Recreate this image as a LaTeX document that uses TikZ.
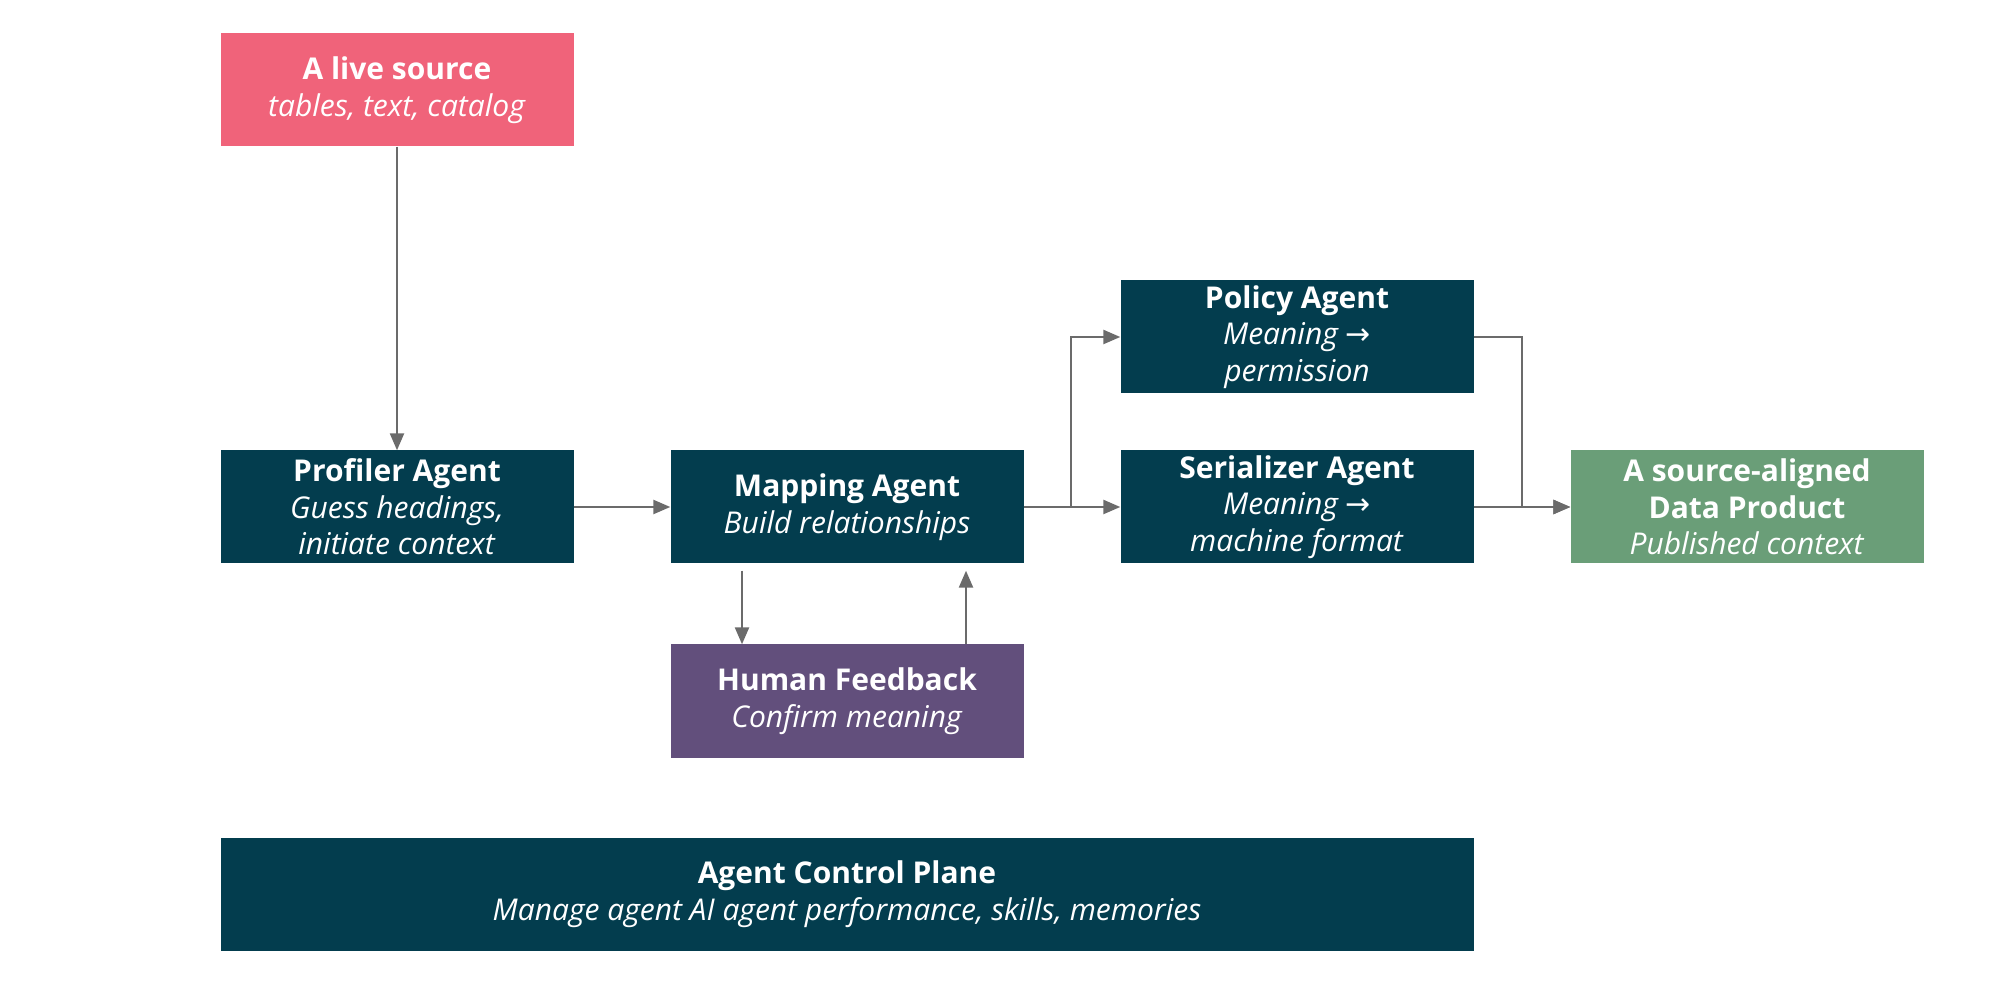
\documentclass[tikz,border=0pt]{standalone}
\usepackage{fontspec}
\setmainfont{Open Sans}
\newfontfamily\arrowfont{DejaVu Sans}
\usepackage{tikz}
\usetikzlibrary{positioning,calc,arrows.meta}
\definecolor{agentteal}{HTML}{033D4E}
\definecolor{sourcepink}{HTML}{F0637A}
\definecolor{humanpurple}{HTML}{624F7C}
\definecolor{productgreen}{HTML}{6A9E78}
\definecolor{linkgray}{HTML}{6B6B6B}
\newcommand{\toarrow}{{\arrowfont\upshape →}}

\begin{document}
\begin{tikzpicture}[x=1pt,y=1pt,
  box/.style={rectangle, minimum width=353pt, minimum height=113pt, inner sep=0pt,
    text=white, align=center, font=\fontsize{30}{36.5}\selectfont},
  agent/.style={box, fill=agentteal},
  link/.style={draw=linkgray, line width=2.4pt, -{Triangle[length=17pt,width=14pt]}}]
\useasboundingbox (0,0) rectangle (1999,1002);
\node[box, fill=sourcepink] (src) at (397,912) {\textbf{A live source}\\\textit{tables, text, catalog}};
\node[agent] (prof) at (397,495) {\textbf{Profiler Agent}\\\textit{Guess headings,}\\\textit{initiate context}};
\node[agent] (map) at (847,495) {\textbf{Mapping Agent}\\\textit{Build relationships}};
\node[agent] (pol) at (1297,665) {\textbf{Policy Agent}\\\textit{Meaning \toarrow}\\\textit{permission}};
\node[agent] (ser) at (1297,495) {\textbf{Serializer Agent}\\\textit{Meaning \toarrow}\\\textit{machine format}};
\node[box, fill=productgreen] (prod) at (1747,495) {\textbf{A source-aligned}\\\textbf{Data Product}\\\textit{Published context}};
\node[box, fill=humanpurple] (hum) at (847,301) {\textbf{Human Feedback}\\\textit{Confirm meaning}};
\node[agent, minimum width=1253pt] (ctrl) at (847,108) {\textbf{Agent Control Plane}\\\textit{Manage agent AI agent performance, skills, memories}};

\coordinate (split) at (1071,495);
\coordinate (join) at (1522,495);
\coordinate (down) at (742,0);
\coordinate (up) at (966,0);

\draw[link] (src) -- (prof);
\draw[link] (prof) -- (map);
\draw[link] (map) -- (ser);
\draw[link] (split) |- (pol);
\draw[link] (pol.east) -| (join) -- (prod);
\draw[link] (ser) -- (prod);
\draw[link, shorten <=7pt] (map.south -| down) -- (hum.north -| down);
\draw[link, shorten >=7pt] (hum.north -| up) -- (map.south -| up);
\end{tikzpicture}
\end{document}
